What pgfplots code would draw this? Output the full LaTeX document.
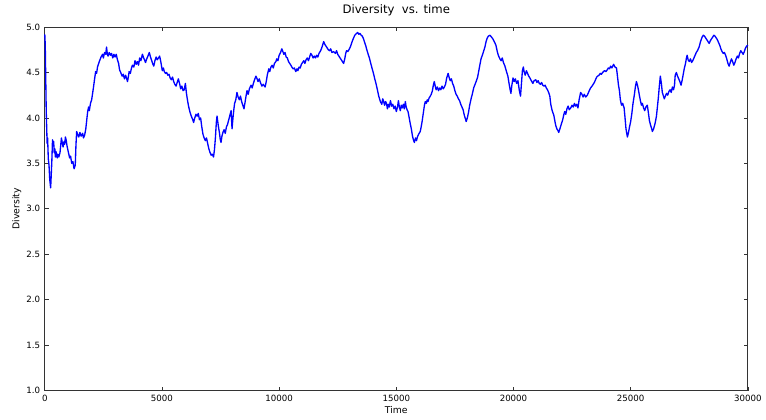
\documentclass[border=0pt]{standalone}
\usepackage{pgfplots}
\pgfplotsset{compat=1.18}
\usepackage{fontspec}
\setmainfont{DejaVu Sans}

\pgfplotstableread{
t v
0 4.92
20 4.80
40 4.45
60 4.10
80 3.90
100 3.72
120 3.78
150 3.55
180 3.48
212 3.32
250 3.23
280 3.40
300 3.52
330 3.76
350 3.70
380 3.74
400 3.62
430 3.66
450 3.57
480 3.63
500 3.60
530 3.56
560 3.60
600 3.57
650 3.62
680 3.70
710 3.78
750 3.72
780 3.68
820 3.74
850 3.71
880 3.79
910 3.76
950 3.69
1000 3.63
1060 3.56
1100 3.58
1150 3.50
1200 3.52
1250 3.44
1300 3.48
1330 3.70
1360 3.85
1400 3.82
1450 3.79
1500 3.84
1550 3.80
1615 3.83
1650 3.78
1700 3.81
1750 3.88
1800 4.00
1830 4.07
1870 4.12
1900 4.08
1950 4.16
2000 4.20
2040 4.27
2080 4.34
2120 4.42
2170 4.51
2210 4.49
2250 4.56
2300 4.60
2340 4.63
2400 4.67
2465 4.70
2500 4.66
2550 4.72
2600 4.70
2635 4.78
2670 4.70
2700 4.68
2750 4.72
2800 4.69
2850 4.71
2900 4.66
2950 4.70
3000 4.67
3050 4.70
3100 4.64
3150 4.60
3190 4.53
3240 4.50
3300 4.46
3350 4.48
3400 4.43
3450 4.47
3530 4.40
3570 4.46
3600 4.51
3650 4.49
3700 4.55
3740 4.58
3800 4.56
3850 4.63
3900 4.59
3950 4.62
4000 4.58
4050 4.66
4100 4.63
4165 4.70
4220 4.66
4300 4.61
4350 4.65
4400 4.68
4460 4.72
4500 4.68
4550 4.64
4600 4.60
4650 4.57
4700 4.63
4750 4.67
4800 4.64
4850 4.66
4900 4.68
4950 4.62
5015 4.52
5060 4.55
5100 4.51
5150 4.49
5200 4.50
5250 4.47
5300 4.48
5350 4.44
5400 4.42
5450 4.45
5500 4.40
5550 4.37
5600 4.35
5650 4.39
5700 4.43
5750 4.38
5800 4.32
5850 4.35
5900 4.30
5950 4.31
6000 4.38
6040 4.28
6080 4.21
6120 4.15
6160 4.10
6200 4.06
6250 4.02
6300 3.99
6350 3.95
6400 4.00
6450 4.04
6500 4.02
6550 4.05
6600 3.98
6650 4.00
6700 3.90
6750 3.82
6800 3.78
6850 3.75
6900 3.78
6950 3.72
7000 3.66
7050 3.62
7100 3.59
7150 3.60
7200 3.57
7240 3.65
7280 3.78
7320 3.95
7350 4.02
7400 3.92
7450 3.84
7490 3.76
7520 3.73
7560 3.80
7600 3.84
7650 3.87
7700 3.83
7750 3.90
7800 3.93
7850 3.98
7900 4.03
7950 4.08
7990 3.88
8030 4.00
8070 4.10
8100 4.16
8150 4.20
8200 4.28
8250 4.23
8300 4.20
8350 4.24
8400 4.18
8450 4.14
8500 4.10
8550 4.18
8600 4.26
8630 4.30
8680 4.26
8730 4.32
8800 4.36
8850 4.33
8900 4.38
8950 4.42
9010 4.46
9060 4.43
9100 4.40
9150 4.43
9200 4.39
9265 4.35
9320 4.37
9400 4.34
9450 4.40
9500 4.48
9560 4.54
9600 4.51
9650 4.56
9700 4.58
9750 4.55
9800 4.60
9860 4.62
9900 4.65
9950 4.63
10000 4.69
10060 4.72
10115 4.76
10160 4.73
10200 4.70
10250 4.72
10300 4.67
10350 4.66
10400 4.62
10450 4.60
10500 4.58
10540 4.56
10600 4.54
10650 4.55
10710 4.51
10760 4.54
10800 4.52
10850 4.56
10900 4.55
10950 4.59
11000 4.61
11050 4.63
11100 4.60
11150 4.64
11200 4.66
11250 4.63
11300 4.67
11350 4.71
11400 4.69
11450 4.66
11500 4.68
11550 4.66
11600 4.69
11650 4.67
11700 4.71
11770 4.74
11830 4.78
11900 4.84
11950 4.81
12000 4.79
12050 4.77
12100 4.75
12150 4.74
12200 4.76
12250 4.72
12325 4.73
12400 4.71
12450 4.74
12500 4.70
12550 4.68
12600 4.66
12650 4.64
12700 4.62
12750 4.60
12800 4.65
12840 4.71
12880 4.74
12930 4.73
13000 4.76
13050 4.79
13100 4.83
13175 4.88
13230 4.91
13300 4.93
13350 4.94
13400 4.92
13450 4.93
13500 4.91
13550 4.90
13600 4.87
13650 4.83
13700 4.79
13730 4.76
13800 4.70
13850 4.66
13900 4.61
13960 4.55
14025 4.49
14080 4.43
14150 4.36
14200 4.30
14250 4.24
14320 4.18
14380 4.15
14420 4.21
14450 4.19
14500 4.14
14540 4.18
14580 4.16
14620 4.10
14660 4.15
14700 4.12
14750 4.19
14800 4.13
14850 4.15
14900 4.10
14950 4.13
15000 4.07
15050 4.12
15090 4.19
15130 4.12
15170 4.08
15210 4.14
15250 4.11
15300 4.15
15340 4.10
15385 4.18
15420 4.12
15460 4.09
15500 4.07
15550 4.00
15600 3.93
15640 3.88
15690 3.80
15730 3.76
15770 3.73
15820 3.78
15860 3.75
15900 3.79
15950 3.82
16020 3.85
16060 3.90
16100 3.96
16150 4.05
16200 4.14
16235 4.18
16280 4.16
16320 4.20
16350 4.18
16400 4.22
16450 4.24
16490 4.26
16540 4.30
16580 4.36
16620 4.40
16660 4.35
16700 4.31
16750 4.34
16800 4.30
16850 4.33
16900 4.31
16950 4.35
17000 4.32
17050 4.34
17100 4.37
17150 4.44
17210 4.49
17260 4.44
17300 4.41
17350 4.43
17400 4.38
17450 4.35
17500 4.30
17550 4.26
17600 4.24
17650 4.21
17700 4.19
17750 4.15
17800 4.12
17850 4.09
17900 4.03
17950 3.99
17980 3.96
18030 4.00
18080 4.06
18130 4.14
18190 4.21
18250 4.27
18300 4.33
18360 4.37
18420 4.41
18470 4.45
18520 4.52
18570 4.59
18615 4.65
18670 4.69
18720 4.73
18780 4.78
18830 4.84
18880 4.88
18930 4.90
19000 4.91
19060 4.89
19120 4.87
19180 4.84
19250 4.80
19300 4.74
19350 4.69
19420 4.65
19470 4.63
19520 4.66
19570 4.61
19635 4.57
19700 4.51
19760 4.46
19810 4.38
19850 4.32
19890 4.27
19930 4.36
19980 4.44
20030 4.40
20080 4.43
20130 4.38
20190 4.41
20250 4.30
20300 4.24
20340 4.38
20380 4.52
20420 4.56
20460 4.50
20500 4.47
20550 4.52
20600 4.49
20650 4.46
20700 4.44
20760 4.41
20825 4.38
20880 4.41
20950 4.42
21000 4.39
21050 4.41
21100 4.38
21150 4.37
21200 4.39
21250 4.36
21300 4.35
21350 4.36
21400 4.33
21450 4.31
21500 4.28
21550 4.24
21590 4.15
21650 4.08
21720 4.03
21770 3.96
21800 3.92
21850 3.88
21900 3.86
21930 3.84
21980 3.88
22050 3.94
22100 3.98
22150 4.04
22185 4.07
22230 4.04
22280 4.10
22330 4.13
22380 4.09
22440 4.11
22500 4.14
22550 4.12
22600 4.16
22650 4.13
22700 4.15
22750 4.11
22800 4.20
22865 4.28
22920 4.26
22970 4.23
23020 4.26
23080 4.23
23150 4.25
23200 4.28
23250 4.31
23290 4.33
23350 4.35
23400 4.37
23450 4.39
23500 4.42
23550 4.45
23590 4.46
23650 4.47
23700 4.49
23750 4.48
23800 4.50
23885 4.52
23950 4.51
24000 4.53
24050 4.55
24100 4.54
24140 4.57
24200 4.55
24270 4.59
24330 4.56
24395 4.55
24440 4.45
24480 4.36
24520 4.30
24560 4.20
24610 4.14
24660 4.16
24720 4.11
24760 4.00
24800 3.88
24860 3.79
24900 3.83
24950 3.90
25000 3.96
25050 4.05
25100 4.16
25160 4.26
25200 4.34
25245 4.40
25290 4.36
25330 4.31
25370 4.25
25415 4.19
25460 4.14
25500 4.16
25550 4.11
25600 4.08
25650 4.12
25710 4.14
25760 4.05
25800 3.97
25850 3.92
25900 3.88
25925 3.85
25980 3.88
26050 3.95
26100 4.02
26140 4.12
26180 4.22
26220 4.34
26265 4.46
26310 4.38
26350 4.28
26400 4.24
26435 4.21
26480 4.24
26530 4.27
26580 4.25
26630 4.29
26680 4.31
26730 4.28
26780 4.34
26830 4.31
26870 4.36
26900 4.47
26950 4.50
27000 4.46
27050 4.43
27100 4.40
27150 4.36
27200 4.42
27250 4.49
27285 4.54
27340 4.60
27380 4.66
27410 4.69
27450 4.64
27500 4.62
27550 4.65
27600 4.61
27650 4.63
27700 4.66
27750 4.69
27800 4.72
27850 4.74
27920 4.78
27980 4.84
28050 4.89
28100 4.91
28150 4.90
28200 4.88
28250 4.86
28300 4.84
28350 4.82
28400 4.85
28450 4.87
28500 4.89
28550 4.91
28600 4.90
28650 4.88
28700 4.86
28750 4.83
28800 4.80
28850 4.76
28900 4.73
28950 4.71
29000 4.72
29050 4.69
29100 4.65
29150 4.60
29200 4.57
29250 4.61
29300 4.65
29350 4.62
29400 4.58
29450 4.61
29500 4.65
29550 4.68
29600 4.66
29650 4.71
29700 4.74
29750 4.72
29800 4.70
29850 4.73
29900 4.77
29950 4.79
30000 4.80
}\diversity

\begin{document}
\begin{tikzpicture}
\begin{axis}[
  scale only axis,
  width=529.5pt, height=273.75pt,
  xmin=0, xmax=30000,
  ymin=1.0, ymax=5.0,
  xtick={0,5000,...,30000},
  ytick={1.0,1.5,...,5.0},
  tick align=inside,
  major tick length=3pt,
  axis line style={black!80, line width=0.6pt},
  tick style={black!80, line width=0.5pt},
  scaled x ticks=false,
  /pgf/number format/assume math mode=true,
  xticklabel style={/pgf/number format/set thousands separator={}},
  yticklabel style={/pgf/number format/fixed, /pgf/number format/fixed zerofill, /pgf/number format/precision=1},
  tick label style={font=\fontsize{6.5}{7}\selectfont},
  label style={font=\fontsize{7}{8}\selectfont},
  title style={font=\fontsize{8.8}{10}\selectfont, yshift=-1pt},
  title={Diversity\ \ vs. time},
  xlabel={Time},
  ylabel={Diversity},
  xlabel style={yshift=3pt},
  ylabel style={yshift=-3pt},
  clip=false,
]
\addplot[color={rgb,1:red,0;green,0;blue,1}, line width=1.0pt, line join=round] table[x=t, y=v] {\diversity};
\path (rel axis cs:-0.0637,-0.0795) rectangle (rel axis cs:1.0212,1.063);
\end{axis}
\end{tikzpicture}
\end{document}
